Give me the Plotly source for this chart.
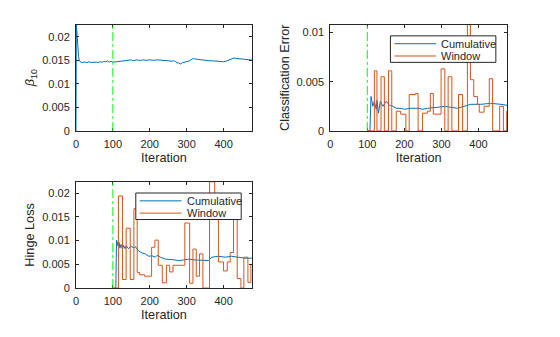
import plotly.graph_objects as go

# ---- beta_10 trajectory over iterations ----
beta_iter = [0, 1, 3, 5, 7, 9, 12, 16, 20, 25, 30, 35, 40, 45, 50, 55, 60, 65, 70, 75,
             80, 85, 90, 95, 100, 105, 110, 115, 120, 125, 130, 135, 140, 145, 150, 155,
             160, 165, 170, 175, 180, 190, 200, 210, 220, 230, 240, 245, 250, 260, 265,
             270, 280, 284, 288, 295, 300, 305, 310, 318, 322, 330, 340, 350, 360, 370,
             380, 390, 395, 400, 410, 420, 428, 435, 445, 455, 462, 468, 477]
beta_val = [0, 0.0226, 0.0205, 0.0175, 0.0158, 0.0150, 0.01465, 0.01455, 0.0146, 0.01465,
            0.0145, 0.0147, 0.01455, 0.0146, 0.0147, 0.0146, 0.01455, 0.0147, 0.0146,
            0.01475, 0.0147, 0.01485, 0.0146, 0.0148, 0.0146, 0.01465, 0.0147, 0.0146,
            0.0148, 0.0147, 0.0149, 0.0148, 0.0150, 0.0149, 0.0151, 0.0149, 0.0150,
            0.0151, 0.0150, 0.01495, 0.0151, 0.0150, 0.0151, 0.0150, 0.0151, 0.01505,
            0.0151, 0.0150, 0.0149, 0.0148, 0.0149, 0.0147, 0.0144, 0.0142, 0.0145,
            0.0146, 0.0147, 0.0148, 0.0150, 0.0154, 0.0153, 0.0152, 0.0151, 0.0150,
            0.0149, 0.0149, 0.0148, 0.0147, 0.01465, 0.0147, 0.0149, 0.0153, 0.0155,
            0.0154, 0.0153, 0.0153, 0.0151, 0.0152, 0.01505]

# ---- classification error ----
err_cum_iter = [101, 107, 110, 115, 119, 124, 126, 130, 135, 142, 151, 160, 169, 178,
                191, 200, 218, 236, 250, 263, 290, 308, 326, 343, 361, 379, 406, 433,
                460, 477]
err_cum_val = [0, 0, 0.0035, 0.0025, 0.0030, 0.0022, 0.0031, 0.0018, 0.0030, 0.0025,
               0.0030, 0.0026, 0.0025, 0.0023, 0.0023, 0.0022, 0.0023, 0.0023, 0.0022,
               0.0023, 0.0024, 0.0025, 0.0024, 0.0023, 0.0025, 0.0027, 0.0027, 0.0028,
               0.0027, 0.0026]
err_win_iter = [101, 119, 126, 137, 146, 157, 166, 178, 190, 204, 213, 230, 237, 249,
                262, 270, 278, 299, 309, 318, 328, 346, 357, 370, 378, 387, 397, 402,
                415, 429, 438, 457, 467, 476, 477]
err_win_val = [0, 0.0061, 0, 0.0055, 0, 0.0061, 0, 0.0020, 0.0017, 0, 0.0037, 0.0038, 0,
               0.0018, 0.0020, 0.0038, 0.0017, 0.0063, 0, 0.0055, 0, 0.0037, 0, 0.0108,
               0.0052, 0.0035, 0.0027, 0.0019, 0.0025, 0.0053, 0, 0.0025, 0, 0.0020, 0.0020]

# ---- hinge loss ----
hinge_cum_iter = [101, 108, 110, 114, 117, 119, 122, 126, 129, 133, 136, 142, 148, 157,
                  161, 170, 179, 188, 197, 206, 215, 220, 229, 242, 260, 278, 291, 305,
                  323, 341, 359, 368, 386, 404, 422, 439, 457, 477]
hinge_cum_val = [0, 0, 0.0101, 0.0089, 0.0096, 0.0084, 0.0092, 0.0082, 0.0090, 0.0083,
                 0.0089, 0.0083, 0.0088, 0.0085, 0.0087, 0.0078, 0.0074, 0.0072, 0.0067,
                 0.0068, 0.0065, 0.0069, 0.0065, 0.0061, 0.0060, 0.0058, 0.0059, 0.0061,
                 0.0059, 0.0058, 0.0058, 0.0065, 0.0067, 0.0065, 0.0067, 0.0065, 0.0063,
                 0.0063]
hinge_win_iter = [101, 115, 126, 136, 147, 157, 166, 172, 186, 205, 214, 223, 234, 245,
                  254, 263, 295, 308, 317, 326, 335, 344, 362, 376, 386, 400, 410, 418,
                  427, 437, 447, 455, 466, 474, 477]
hinge_win_val = [0, 0.0194, 0.0018, 0.0126, 0.0018, 0.0167, 0.0033, 0.0028, 0.0025,
                 0.0086, 0.0101, 0.0048, 0.0011, 0.0048, 0.0034, 0.0048, 0.0137, 0.0010,
                 0.0082, 0.0025, 0.0072, 0, 0.0224, 0.0150, 0.0055, 0.0036, 0.0055,
                 0.0075, 0.0165, 0.0020, 0, 0.0065, 0.0012, 0.0050, 0.0050]

x_ticks = [0, 100, 200, 300, 400]
y_ticks_big = [0, 0.005, 0.01, 0.015, 0.02]
y_ticks_small = [0, 0.005, 0.01]
burn_in = 100
series_names = ["Cumulative", "Window"]

BLUE = "#0072BD"
ORANGE = "#D95319"
INK = "#262626"
FONT = "Liberation Sans, Arial, sans-serif"
W, H = 560, 337

fig = go.Figure()

fig.add_trace(go.Scatter(x=beta_iter, y=beta_val, mode="lines",
                         line=dict(color=BLUE, width=1), showlegend=False,
                         xaxis="x", yaxis="y"))

fig.add_trace(go.Scatter(x=err_cum_iter, y=err_cum_val, mode="lines", name=series_names[0],
                         line=dict(color=BLUE, width=1), showlegend=False,
                         xaxis="x2", yaxis="y2"))
fig.add_trace(go.Scatter(x=err_win_iter, y=err_win_val, mode="lines", name=series_names[1],
                         line=dict(color=ORANGE, width=1, shape="hv"), showlegend=False,
                         xaxis="x2", yaxis="y2"))

fig.add_trace(go.Scatter(x=hinge_cum_iter, y=hinge_cum_val, mode="lines", name=series_names[0],
                         line=dict(color=BLUE, width=1), showlegend=False,
                         xaxis="x3", yaxis="y3"))
fig.add_trace(go.Scatter(x=hinge_win_iter, y=hinge_win_val, mode="lines", name=series_names[1],
                         line=dict(color=ORANGE, width=1, shape="hv"), showlegend=False,
                         xaxis="x3", yaxis="y3"))

# burn-in marker on each panel
for xr, yr in [("x", "y"), ("x2", "y2"), ("x3", "y3")]:
    fig.add_shape(type="line", xref=xr, yref=yr + " domain", x0=burn_in, x1=burn_in,
                  y0=0, y1=1, line=dict(color="#00FF00", width=1, dash="dashdot"))


def boxed_legend(left_px, top_px):
    """Compact MATLAB-style legend box placed in paper pixels."""
    bw, bh = 106, 27
    px = lambda v: v / W
    py = lambda v: 1 - v / H
    fig.add_shape(type="rect", xref="paper", yref="paper",
                  x0=px(left_px), x1=px(left_px + bw), y0=py(top_px + bh), y1=py(top_px),
                  line=dict(color=INK, width=1), fillcolor="white", layer="above")
    for i, (name, col) in enumerate(zip(series_names, [BLUE, ORANGE])):
        row_y = top_px + 8 + 12.5 * i
        fig.add_shape(type="line", xref="paper", yref="paper",
                      x0=px(left_px + 4), x1=px(left_px + 46), y0=py(row_y), y1=py(row_y),
                      line=dict(color=col, width=1), layer="above")
        fig.add_annotation(xref="paper", yref="paper", x=px(left_px + 49), y=py(row_y),
                           xanchor="left", yanchor="middle", text=name, showarrow=False,
                           font=dict(family=FONT, size=11, color=INK))


boxed_legend(389.5, 36.5)
boxed_legend(133.5, 196.5)

axis_common = dict(showline=True, linecolor=INK, linewidth=1, mirror="allticks",
                   ticks="inside", ticklen=3, tickcolor=INK, showgrid=False,
                   zeroline=False, tickfont=dict(family=FONT, size=11, color=INK),
                   fixedrange=True)
title_font = dict(family=FONT, size=12.7, color=INK)
xcommon = dict(axis_common, range=[0, 477], tickvals=x_ticks, ticklabelstandoff=3,
               title=dict(text="Iteration", font=title_font, standoff=3))

left_dom = [0.131, 0.447]
right_dom = [0.5875, 0.905]
top_dom = [0.6045, 0.9258]
bot_dom = [0.1297, 0.451]

fig.update_layout(
    width=W, height=H, margin=dict(l=0, r=0, t=0, b=0),
    paper_bgcolor="white", plot_bgcolor="white", showlegend=False,
    font=dict(family=FONT, color=INK),
    xaxis=dict(xcommon, domain=left_dom, anchor="y"),
    yaxis=dict(axis_common, domain=top_dom, anchor="x", range=[0, 0.0226],
               tickvals=y_ticks_big, ticktext=["0", "0.005", "0.01", "0.015", "0.02"],
               ticklabelstandoff=3,
               title=dict(text="<i>β</i><sub>10</sub>", font=title_font, standoff=4)),
    xaxis2=dict(xcommon, domain=right_dom, anchor="y2"),
    yaxis2=dict(axis_common, domain=top_dom, anchor="x2", range=[0, 0.0108],
                tickvals=y_ticks_small, ticktext=["0", "0.005", "0.01"],
                ticklabelstandoff=3,
                title=dict(text="Classification Error", font=title_font, standoff=4)),
    xaxis3=dict(xcommon, domain=left_dom, anchor="y3"),
    yaxis3=dict(axis_common, domain=bot_dom, anchor="x3", range=[0, 0.0224],
                tickvals=y_ticks_big, ticktext=["0", "0.005", "0.01", "0.015", "0.02"],
                ticklabelstandoff=3,
                title=dict(text="Hinge Loss", font=title_font, standoff=4)),
)

fig.write_html("out.html")
